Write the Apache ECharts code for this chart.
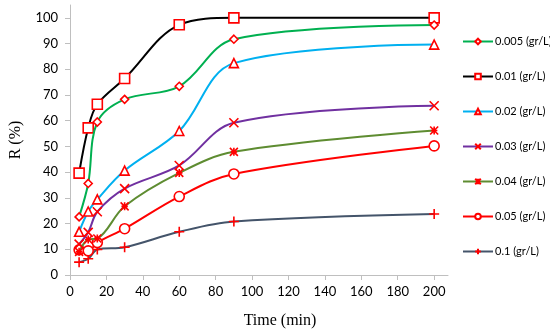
<!DOCTYPE html>
<html>
<head>
<meta charset="utf-8">
<script src="https://cdn.jsdelivr.net/npm/echarts@6/dist/echarts.min.js"></script>
<style>html,body{margin:0;padding:0;background:#fff}#c{width:550px;height:334px}</style>
</head>
<body>
<div id="c"></div>
<script>
const times = [5, 10, 15, 30, 60, 90, 200];
const names = ['0.005 (gr/L)', '0.01 (gr/L)', '0.02 (gr/L)', '0.03 (gr/L)', '0.04 (gr/L)', '0.05 (gr/L)', '0.1 (gr/L)'];
const r0005 = [22.6, 35.6, 59.5, 68.3, 73.4, 91.7, 97.2];
const r001  = [39.6, 57.2, 66.4, 76.4, 97.3, 100.0, 100.0];
const r002  = [16.8, 24.7, 29.4, 40.6, 56.0, 82.4, 89.6];
const r003  = [12.0, 16.6, 24.6, 33.6, 42.6, 59.2, 65.8];
const r004  = [9.0, 13.8, 14.2, 26.7, 39.7, 47.9, 56.2];
const r005  = [9.8, 9.4, 12.6, 18.0, 30.5, 39.3, 50.2];
const r01   = [5.0, 6.3, 9.9, 10.8, 16.8, 20.8, 23.7];
const xTicks = [0, 20, 40, 60, 80, 100, 120, 140, 160, 180, 200];
const yTicks = [0, 10, 20, 30, 40, 50, 60, 70, 80, 90, 100];

const values = [r0005, r001, r002, r003, r004, r005, r01];
const lineColors = ['#00b050', '#000000', '#00b0f0', '#7030a0', '#5e8c31', '#ff0000', '#44546a'];
const symbols = [
  'diamond', 'rect', 'triangle',
  'path://M0,0L10,10M10,0L0,10',
  'path://M0,0L10,10M10,0L0,10M5,0L5,10M1,5L9,5',
  'circle',
  'path://M5,0L5,10M0,5L10,5'
];
const symSizes = [8, 10, 9, 9, 8, 10, 10];

const series = values.map((v, i) => ({
  name: names[i],
  type: 'line',
  smooth: 0.35,
  data: times.map((t, j) => [t, v[j]]),
  symbol: symbols[i],
  symbolSize: symSizes[i],
  showAllSymbol: true,
  lineStyle: { color: lineColors[i], width: 2 },
  itemStyle: {
    color: (i === 3 || i === 4 || i === 6) ? 'rgba(0,0,0,0)' : '#ffffff',
    borderColor: '#ff0000',
    borderWidth: 1.6
  },
  emphasis: { disabled: true },
  z: 10 - i
}));

const chart = echarts.init(document.getElementById('c'), null, { renderer: 'canvas' });
chart.setOption({
  animation: false,
  backgroundColor: '#ffffff',
  grid: { left: 64, right: 102, top: 5, bottom: 56 },
  legend: {
    orient: 'vertical',
    left: 457,
    top: 31,
    itemWidth: 30,
    itemHeight: 7,
    itemGap: 24,
    textStyle: { fontFamily: 'Lato', fontSize: 11, color: '#000', padding: [0, 0, 0, -3] },
    data: names
  },
  xAxis: {
    type: 'value',
    min: 0,
    max: 207.6,
    interval: 20,
    name: 'Time (min)',
    nameLocation: 'middle',
    nameGap: 38,
    nameTextStyle: { fontFamily: 'Liberation Serif', fontSize: 16, color: '#000', padding: [0, 0, 0, 42] },
    axisLine: { lineStyle: { color: '#bfbfbf', width: 1 } },
    axisTick: { show: true, length: 5, lineStyle: { color: '#bfbfbf' } },
    axisLabel: {
      fontFamily: 'Lato', fontSize: 13, color: '#000', margin: 10,
      showMaxLabel: false,
      formatter: v => (xTicks.indexOf(v) >= 0 ? String(v) : '')
    },
    splitLine: { show: false }
  },
  yAxis: {
    type: 'value',
    min: 0,
    max: 105,
    interval: 10,
    name: 'R (%)',
    nameLocation: 'middle',
    nameGap: 46,
    nameRotate: 90,
    nameTextStyle: { fontFamily: 'Liberation Serif', fontSize: 16, color: '#000' },
    axisLine: { show: true, lineStyle: { color: '#bfbfbf', width: 1 } },
    axisTick: { show: true, length: 5, lineStyle: { color: '#bfbfbf' } },
    axisLabel: {
      fontFamily: 'Lato', fontSize: 13, color: '#000', margin: 12,
      showMaxLabel: false,
      formatter: v => (yTicks.indexOf(v) >= 0 ? String(v) : '')
    },
    splitLine: { show: false }
  },
  series: series
});
</script>
</body>
</html>
